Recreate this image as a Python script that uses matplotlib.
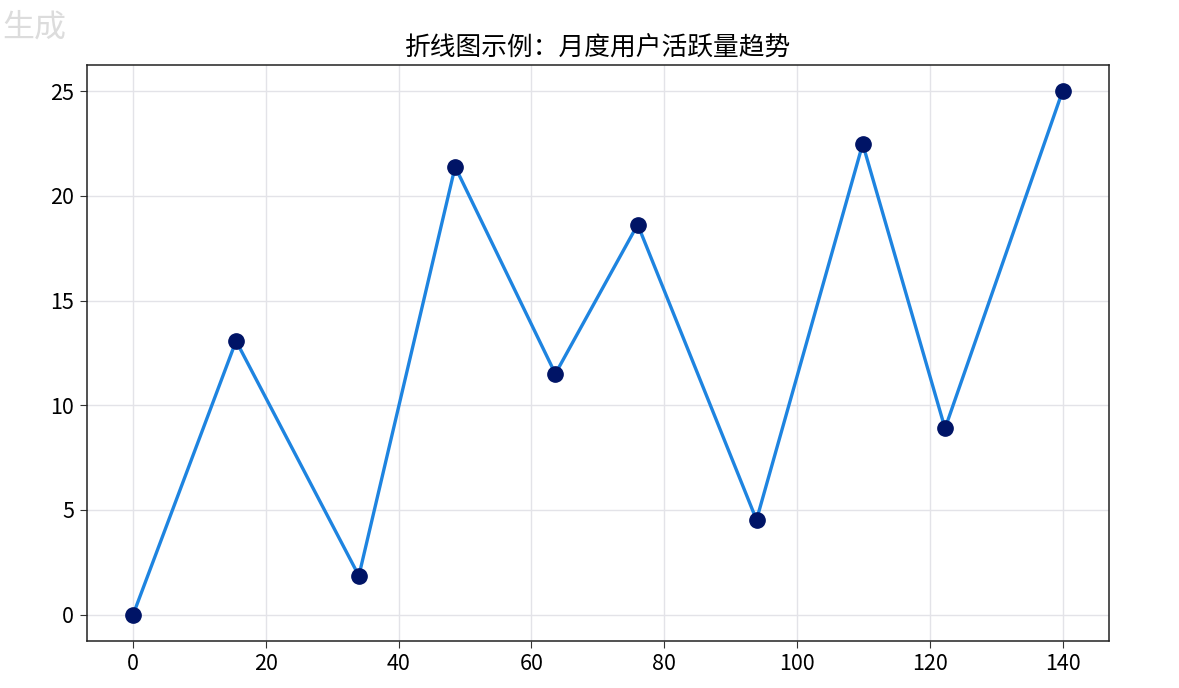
import numpy as np
import matplotlib
matplotlib.use('Agg')
from matplotlib import pyplot as plt

plt.rcParams['font.family'] = ['Noto Sans CJK SC', 'DejaVu Sans']

# data
x_vals = [0, 15.5, 34, 48.5, 63.6, 76, 93.9, 109.9, 122.3, 140]
y_vals = [0, 13.07, 1.85, 21.39, 11.5, 18.63, 4.52, 22.48, 8.89, 25]
title = '折线图示例：月度用户活跃量趋势'

fig = plt.figure(figsize=(11.79, 6.88), dpi=100)
ax = fig.add_axes([86.7/1179, 1 - 640.7/688, (1109 - 86.7)/1179, (640.7 - 65)/688])

ax.plot(x_vals, y_vals, color='#1E84E0', linewidth=2.4, zorder=3)
ax.plot(x_vals, y_vals, 'o', color='#001466', markersize=11, zorder=4)

ax.grid(True, color='#e3e3e8', linewidth=1)
ax.set_axisbelow(True)
ax.set_title(title, fontsize=18.5, pad=7)
ax.tick_params(labelsize=15.5, length=5, color='#333333', pad=4)
for s in ax.spines.values():
    s.set_color('#222222')
    s.set_linewidth(1.1)

# faded button in the top-left corner
fig.text(0.002, 1 - 28/688, '生成', fontsize=23, color='#dcdcdc', va='center', ha='left')

fig.savefig('out.png', dpi=100)
